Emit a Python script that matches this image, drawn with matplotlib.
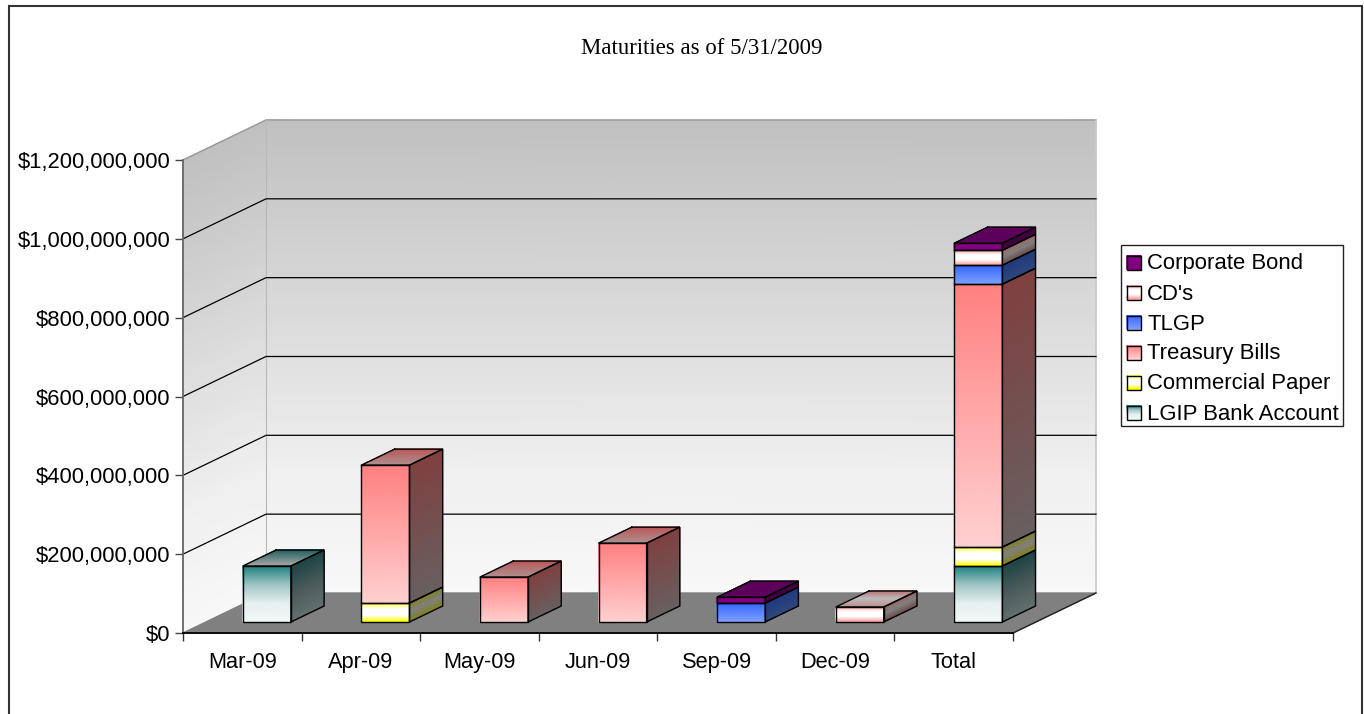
import numpy as np
import matplotlib
matplotlib.use('Agg')
import matplotlib.pyplot as plt
from matplotlib.colors import LinearSegmentedColormap
from matplotlib.ticker import FuncFormatter

# data
months = ['Mar-09', 'Apr-09', 'May-09', 'Jun-09', 'Sep-09', 'Dec-09', 'Total']
lgip = [142e6, 0, 0, 0, 0, 0, 142e6]
commercial = [0, 48e6, 0, 0, 0, 0, 48e6]
treasury = [0, 350e6, 114e6, 200e6, 0, 0, 667e6]
tlgp = [0, 0, 0, 0, 48e6, 0, 48e6]
cds = [0, 0, 0, 0, 0, 38e6, 38e6]
corporate = [0, 0, 0, 0, 15e6, 0, 18e6]
series = [lgip, commercial, treasury, tlgp, cds, corporate]
names = ['LGIP Bank Account', 'Commercial Paper', 'Treasury Bills', 'TLGP', "CD's", 'Corporate Bond']

# gradient stops top -> bottom for (front, side, top face back -> front)
styles = [
    (['#1f8080', '#9fc4c4', '#e6f0f0', '#f0f7f7'], ['#1c4444', '#4a5a5a', '#647070'], ['#1f5f5f', '#a8a8a8']),
    (['#ffff33', '#ffffff', '#ffffff', '#ffff00'], ['#807f20', '#808080', '#808020'], ['#807f20', '#909090']),
    (['#ff8080', '#ffd0d0'], ['#804040', '#686060'], ['#b85858', '#b09090']),
    (['#3366ff', '#80a0ff'], ['#1f3a80', '#30487a'], ['#1f3a80', '#30487a']),
    (['#ffa0a0', '#ffffff', '#ffffff', '#ffa0a0'], ['#a06868', '#808080', '#705050'], ['#b87070', '#bdbdbd', '#c09090']),
    (['#800080', '#800080'], ['#400040', '#400040'], ['#5c005c', '#5c005c']),
]
wall = ['#c0c0c0', '#d0d0d0', '#e0e0e0', '#f0f0f0', '#f8f8f8']

W, H = 1364, 714
y_max = 1.2e9
n = len(months)
depth_x = 0.70   # category units for whole floor depth
depth_y = 101.5e6
bar_w = 0.405
bar_shift = 0.015
front, back = 0.275, 0.675


def grad(ax, xs, ys, colors, z, edge='black'):
    # xs, ys: corners ul, ur, lr, ll of a quad; gradient runs top to bottom
    cmap = LinearSegmentedColormap.from_list('g', colors)
    t = np.linspace(0, 1, 40)
    X = np.outer(1 - t, [xs[0], xs[1]]) + np.outer(t, [xs[3], xs[2]])
    Y = np.outer(1 - t, [ys[0], ys[1]]) + np.outer(t, [ys[3], ys[2]])
    C = np.column_stack([t, t])
    ax.pcolormesh(X, Y, C, cmap=cmap, vmin=0, vmax=1, shading='gouraud', zorder=z, clip_on=False)
    if edge:
        ax.plot(list(xs) + [xs[0]], list(ys) + [ys[0]], color=edge, lw=1.0, zorder=z + 0.1,
                clip_on=False, solid_joinstyle='miter')


plt.rcParams['font.family'] = ['Liberation Sans']
fig = plt.figure(figsize=(W / 100, H / 100), dpi=100)

# outer chart frame, runs off the bottom
fig.add_artist(plt.Rectangle((9 / W, -0.02), (1361.5 - 9) / W, 1.02 - 6.5 / H, fill=False, ec='#333333', lw=1.5,
                             transform=fig.transFigure))
fig.text(701.5 / W, 1 - 48 / H, 'Maturities as of 5/31/2009', family='Liberation Serif', fontsize=16.4,
         ha='center', va='center')

ax = fig.add_axes([183 / W, 1 - 633 / H, 830 / W, 473 / H])
ax.patch.set_visible(False)
ax.set_xlim(0, n)
ax.set_ylim(0, y_max)

# walls and floor
grad(ax, [depth_x, n + depth_x, n + depth_x, depth_x],
     [y_max + depth_y, y_max + depth_y, depth_y, depth_y], wall, 1, edge=None)
grad(ax, [0, depth_x, depth_x, 0], [y_max, y_max + depth_y, depth_y, 0], wall, 1, edge=None)
ax.plot([0, depth_x, n + depth_x], [y_max, y_max + depth_y, y_max + depth_y], color='#999999', lw=1, zorder=1.2, clip_on=False)
ax.plot([depth_x, depth_x], [depth_y, y_max + depth_y], color='#b8b8b8', lw=0.8, zorder=1.2, clip_on=False)
ax.plot([n + depth_x, n + depth_x], [depth_y, y_max + depth_y], color='#c8c8c8', lw=1.2, zorder=1.2, clip_on=False)
ax.fill([0, n, n + depth_x, depth_x], [0, 0, depth_y, depth_y], color='#808080', zorder=1.5, clip_on=False)
ax.plot([n, n + depth_x], [0, depth_y], color='#222222', lw=1, zorder=1.55, clip_on=False)

# gridlines on both walls
for v in np.arange(2e8, y_max, 2e8):
    ax.plot([0, depth_x, n + depth_x], [v, v + depth_y, v + depth_y], color='black', lw=0.9, zorder=1.6, clip_on=False)

# stacked bars
for i in range(n):
    x0 = i + 0.5 - bar_w / 2 + bar_shift
    x1 = x0 + bar_w
    fx, fy = front * depth_x, front * depth_y
    bx, by = back * depth_x, back * depth_y
    base = 0
    top_style = None
    for vals, st in zip(series, styles):
        v = vals[i]
        if v == 0:
            continue
        y0, y1 = base, base + v
        # side face then front face
        grad(ax, [x1 + fx, x1 + bx, x1 + bx, x1 + fx], [y1 + fy, y1 + by, y0 + by, y0 + fy], st[1], 3 + i)
        grad(ax, [x0 + fx, x1 + fx, x1 + fx, x0 + fx], [y1 + fy, y1 + fy, y0 + fy, y0 + fy], st[0], 3 + i)
        base = y1
        top_style = st
    grad(ax, [x0 + bx, x1 + bx, x1 + fx, x0 + fx], [base + by, base + by, base + fy, base + fy], top_style[2], 3 + i)

# axes, ticks, labels
for s in ['top', 'right']:
    ax.spines[s].set_visible(False)
ax.spines['left'].set_color('#666666')
ax.spines['left'].set_linewidth(1.3)
ax.spines['bottom'].set_linewidth(1.3)
ax.spines['left'].set_zorder(2)
ax.spines['bottom'].set_zorder(2)
ax.set_yticks(np.arange(0, y_max + 1, 2e8))
ax.yaxis.set_major_formatter(FuncFormatter(lambda v, p: '${:,.0f}'.format(v)))
ax.set_xticks(np.arange(n + 1))
ax.set_xticklabels([])
ax.set_xticks(np.arange(n) + 0.5, minor=True)
ax.set_xticklabels(months, minor=True)
ax.tick_params(axis='y', length=6, width=1, color='#444444', labelsize=15.8, pad=3)
ax.tick_params(axis='x', which='major', length=6, width=1, color='#333333')
ax.tick_params(axis='x', which='minor', length=0, labelsize=15.7, pad=14)

# legend drawn by hand so the swatches can carry the gradients
leg = fig.add_axes([0, 0, 1, 1])
leg.patch.set_visible(False)
leg.set_axis_off()
leg.set_xlim(0, W)
leg.set_ylim(H, 0)
leg.fill([1121, 1343, 1343, 1121], [245, 245, 426, 426], fc='white', ec='#222222', lw=1, zorder=1)
for k, (name, st) in enumerate(zip(names[::-1], styles[::-1])):
    yc = 262.5 + 30 * k
    grad(leg, [1127, 1141, 1141, 1127], [yc - 7, yc - 7, yc + 7, yc + 7], st[0], 2)
    leg.text(1147, yc + 1.5, name, fontsize=15.95, va='center', ha='left', zorder=3)

fig.savefig('out.png', dpi=100)
